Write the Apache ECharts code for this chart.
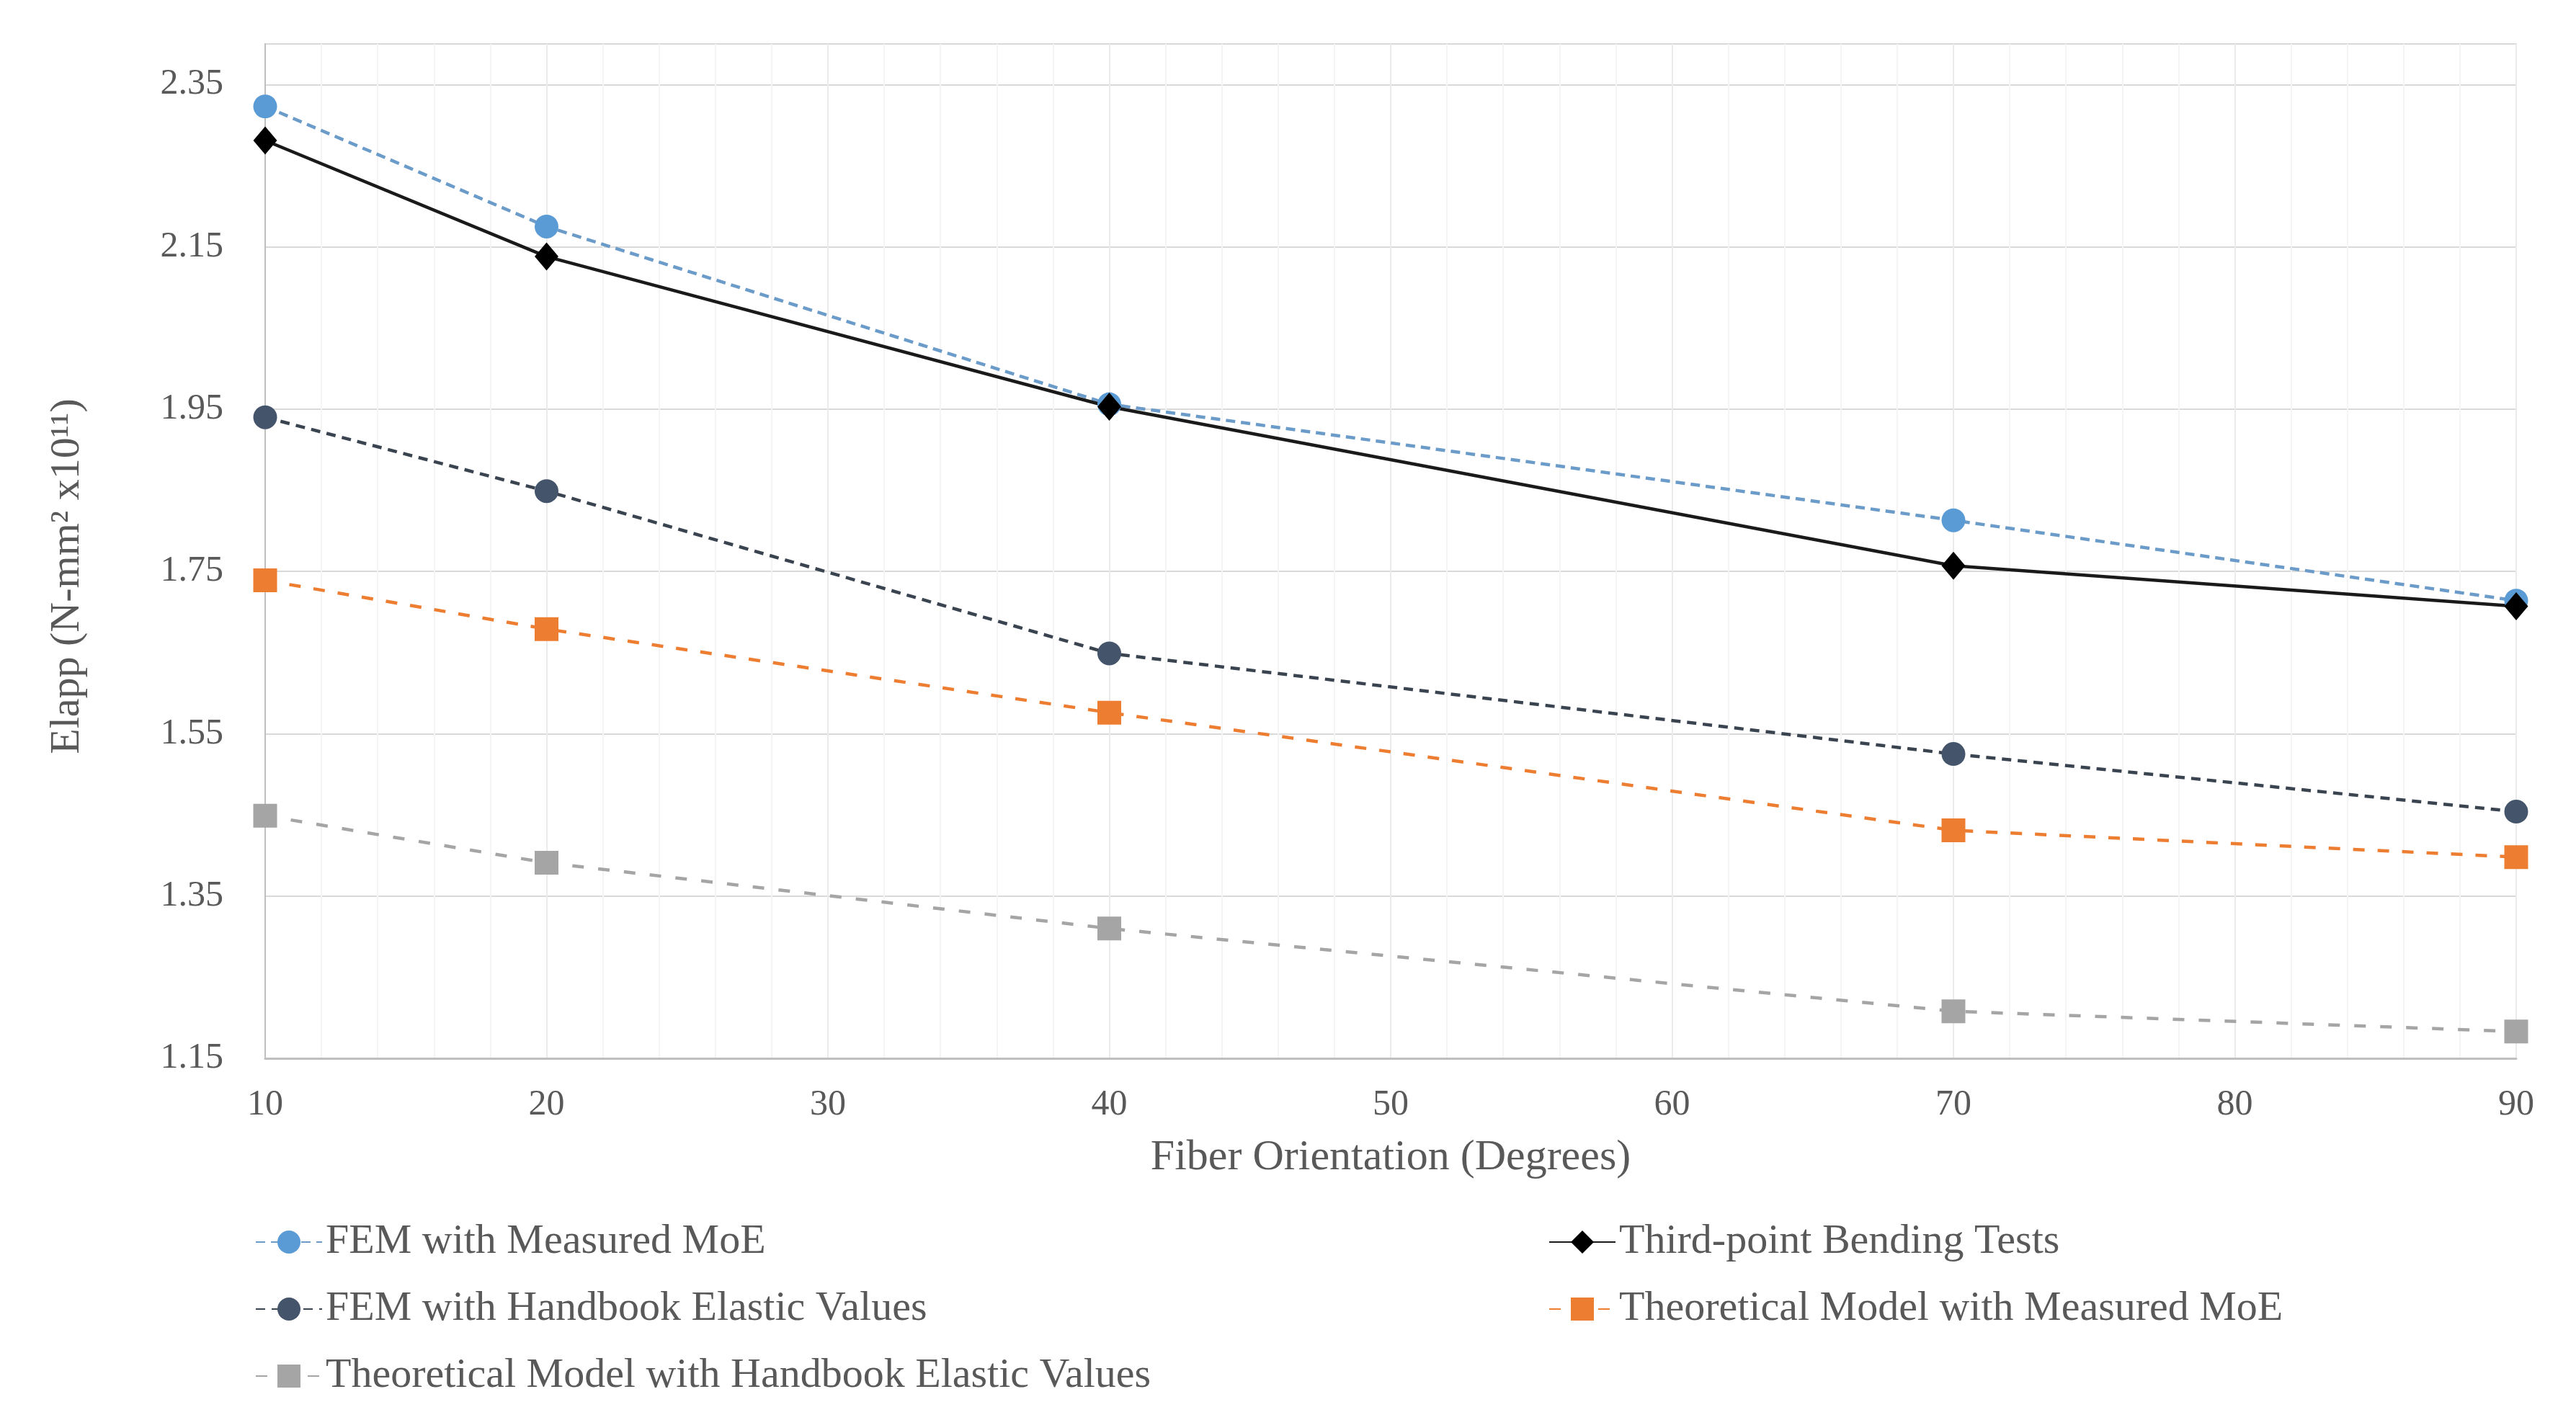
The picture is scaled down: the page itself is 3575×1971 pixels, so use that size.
<!DOCTYPE html>
<html>
<head>
<meta charset="utf-8">
<script src="https://cdn.jsdelivr.net/npm/echarts@6/dist/echarts.min.js"></script>
<style>
html,body{margin:0;padding:0;background:#fff;}
#chart{width:3575px;height:1971px;}
</style>
</head>
<body>
<div id="chart"></div>
<script>
// ---- data ----
const fiberAngles = [10, 20, 40, 70, 90];
const femMeasured = [2.323, 2.175, 1.956, 1.813, 1.714];
const thirdPoint = [2.281, 2.138, 1.953, 1.757, 1.707];
const femHandbook = [1.940, 1.849, 1.649, 1.525, 1.454];
const theoMeasured = [1.739, 1.679, 1.576, 1.431, 1.398];
const theoHandbook = [1.449, 1.391, 1.310, 1.208, 1.183];
const yTickLabels = ['1.15', '1.35', '1.55', '1.75', '1.95', '2.15', '2.35'];
const xTickLabels = ['10', '20', '30', '40', '50', '60', '70', '80', '90'];
const seriesNames = [
  'FEM with Measured MoE',
  'Third-point Bending Tests',
  'FEM with Handbook Elastic Values',
  'Theoretical Model with Measured MoE',
  'Theoretical Model with Handbook Elastic Values'
];

const FONT = '"Liberation Serif", "Times New Roman", serif';
const TXT = '#595959';

function pairs(vals) { return fiberAngles.map((x, i) => [x, vals[i]]); }

const chart = echarts.init(document.getElementById('chart'), null, { renderer: 'canvas' });

function mk(name, vals, color, lineColor, lineType, symbol, size) {
  return {
    name: name,
    type: 'line',
    data: pairs(vals),
    symbol: symbol,
    symbolSize: size,
    showSymbol: true,
    lineStyle: { color: lineColor, width: 4.5, type: lineType },
    itemStyle: { color: color, borderWidth: 0 },
    emphasis: { disabled: true },
    animation: false,
    z: 3
  };
}

const legendText = { fontFamily: FONT, fontSize: 58, color: TXT, lineHeight: 58 };

const option = {
  backgroundColor: '#ffffff',
  animation: false,
  textStyle: { fontFamily: FONT, color: TXT },
  grid: {
    left: 368, right: 83, top: 61, bottom: 502,
    show: true, borderColor: '#d9d9d9', borderWidth: 2, backgroundColor: 'transparent'
  },
  xAxis: {
    type: 'value',
    min: 10, max: 90, interval: 10,
    name: 'Fiber Orientation (Degrees)',
    nameLocation: 'middle',
    nameGap: 108,
    nameTextStyle: { fontFamily: FONT, fontSize: 60, color: TXT },
    axisLine: { show: true, lineStyle: { color: '#bfbfbf', width: 3 } },
    axisTick: { show: false },
    axisLabel: {
      fontFamily: FONT, fontSize: 50, color: TXT, margin: 40,
      formatter: v => xTickLabels.includes(String(Math.round(v))) ? String(Math.round(v)) : ''
    },
    splitLine: { show: true, lineStyle: { color: '#ebebeb', width: 2 } },
    minorTick: { show: false, splitNumber: 5 },
    minorSplitLine: { show: true, lineStyle: { color: '#f4f4f4', width: 2 } }
  },
  yAxis: {
    type: 'value',
    min: 1.15, max: 2.4, interval: 0.05,
    name: 'Elapp (N-mm² x10¹¹)',
    nameLocation: 'middle',
    nameGap: 245,
    nameRotate: 90,
    nameTextStyle: { fontFamily: FONT, fontSize: 58, color: TXT, padding: [0, 70, 0, 0] },
    axisLine: { show: true, lineStyle: { color: '#bfbfbf', width: 2 } },
    axisTick: { show: false },
    axisLabel: {
      fontFamily: FONT, fontSize: 50, color: TXT, margin: 58,
      formatter: v => { const s = v.toFixed(2); return yTickLabels.includes(s) ? s : ''; }
    },
    splitLine: {
      show: true,
      lineStyle: { color: ['#d9d9d9', 'rgba(0,0,0,0)', 'rgba(0,0,0,0)', 'rgba(0,0,0,0)'], width: 2 }
    }
  },
  legend: [
    {
      data: [seriesNames[0], seriesNames[2], seriesNames[4]],
      orient: 'vertical', left: 349, top: 1690,
      itemWidth: 92, itemHeight: 40, itemGap: 35,
      textStyle: legendText,
      selectedMode: false
    },
    {
      data: [seriesNames[1], seriesNames[3]],
      orient: 'vertical', left: 2144, top: 1690,
      itemWidth: 92, itemHeight: 40, itemGap: 35,
      textStyle: legendText,
      selectedMode: false
    }
  ],
  series: [
    mk(seriesNames[0], femMeasured, '#5b9bd5', '#6a9bc9', [13, 8], 'circle', 33),
    mk(seriesNames[1], thirdPoint, '#000000', '#1a1a1a', 'solid', 'diamond', [33, 39]),
    mk(seriesNames[2], femHandbook, '#44546a', '#3a4350', [13, 9], 'circle', 33),
    mk(seriesNames[3], theoMeasured, '#ed7d31', '#ed7d31', [16, 18], 'rect', 33),
    mk(seriesNames[4], theoHandbook, '#a5a5a5', '#a5a5a5', [16, 20], 'rect', 33)
  ]
};

chart.setOption(option);
</script>
</body>
</html>
